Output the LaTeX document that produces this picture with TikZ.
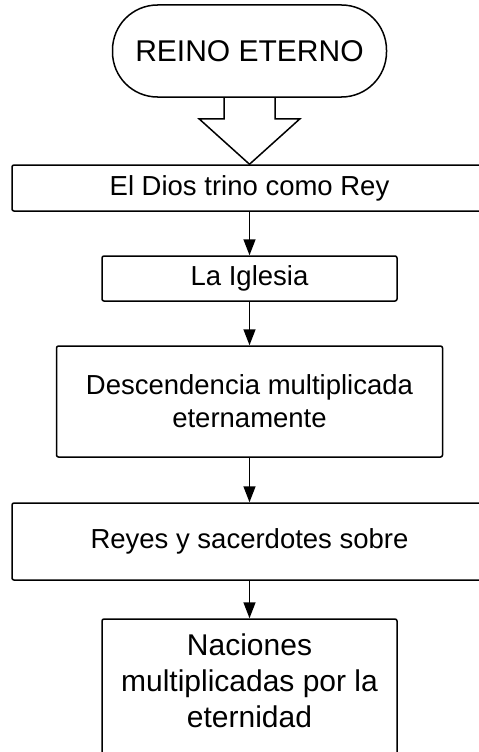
\documentclass[tikz,border=0pt]{standalone}
\usepackage{fontspec}
\setmainfont{Liberation Sans}
\usetikzlibrary{arrows.meta,calc}

\tikzset{
  caja/.style={draw=black, line width=1.5pt, rounded corners=2pt, fill=white,
    inner sep=0pt, align=center, font=\fontsize{27.5}{33}\selectfont},
  flecha/.style={line width=1.5pt, -{Triangle[length=16pt,width=12pt]}}
}

\begin{document}
\begin{tikzpicture}[x=1pt,y=-1pt]
% Marco
\clip (0,0) rectangle (479,752);
\fill[white] (0,0) rectangle (479,752);

% Inicio
\node [caja, rounded corners=45pt, minimum width=274pt, minimum height=92pt,
  font=\fontsize{30}{36}\selectfont] (reino) at (249.5,51) {REINO ETERNO};

% Cajas
\node [caja, minimum width=475pt, minimum height=46pt] (dios) at (249.5,188) {El Dios trino como Rey};
\node [caja, minimum width=295pt, minimum height=45pt] (iglesia) at (249.5,278.5) {La Iglesia};
\node [caja, minimum width=386pt, minimum height=111pt] (descendencia) at (249.5,401.5)
  {Descendencia multiplicada\\eternamente};
\node [caja, minimum width=475pt, minimum height=77pt] (reyes) at (249.5,541.5) {Reyes y sacerdotes sobre};
\node [caja, minimum width=295pt, minimum height=160pt] (naciones) at (249.5,699) {};
\node [align=center, inner sep=0pt, font=\fontsize{30}{36}\selectfont] (nacionestxt) at (249.5,681)
  {Naciones\\multiplicadas por la\\eternidad};

% Flecha hueca
\draw [line width=1.5pt, line join=miter] ($(reino.south)+(-25.5,0)$) -- ++(0,21) -- ++(-25,0)
  -- (dios.north) -- ($(reino.south)+(50.5,21)$) -- ++(-25,0) -- ($(reino.south)+(25.5,0)$);

% Flechas
\draw [flecha] (dios) -- (iglesia);
\draw [flecha] (iglesia) -- (descendencia);
\draw [flecha] (descendencia) -- (reyes);
\draw [flecha] (reyes) -- (naciones);
\end{tikzpicture}
\end{document}
